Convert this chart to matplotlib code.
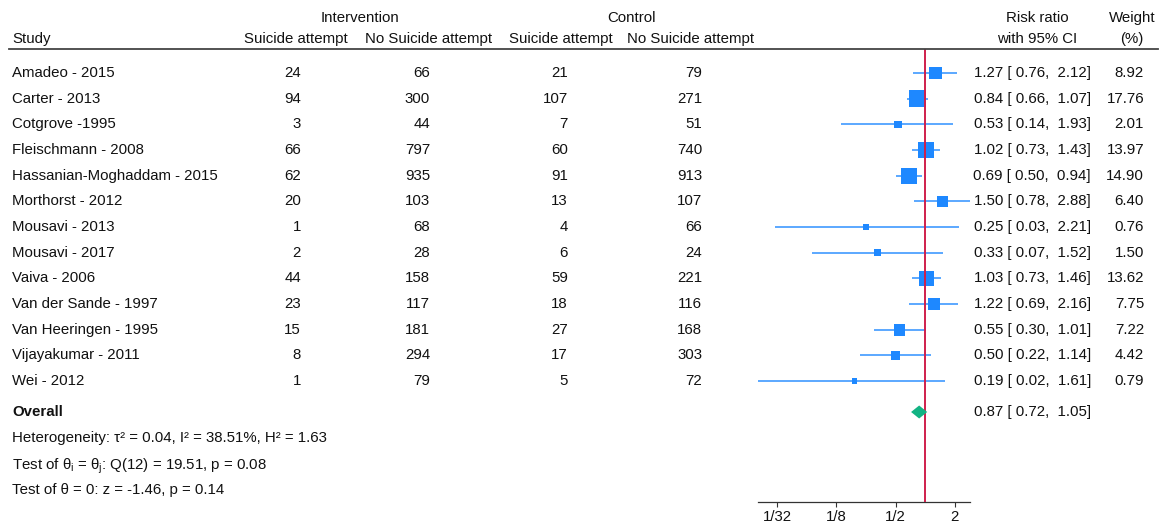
import numpy as np
import matplotlib
matplotlib.use("Agg")
import matplotlib.pyplot as plt
from matplotlib.ticker import FixedLocator, FixedFormatter

plt.rcParams["font.family"] = ["Liberation Sans", "DejaVu Sans"]
plt.rcParams["mathtext.fontset"] = "custom"
plt.rcParams["mathtext.rm"] = "Liberation Sans"
plt.rcParams["mathtext.it"] = "Liberation Sans"
plt.rcParams["mathtext.bf"] = "Liberation Sans:bold"

# ---- data -------------------------------------------------------------
studies = ["Amadeo - 2015", "Carter - 2013", "Cotgrove -1995", "Fleischmann - 2008",
           "Hassanian-Moghaddam - 2015", "Morthorst - 2012", "Mousavi - 2013",
           "Mousavi - 2017", "Vaiva - 2006", "Van der Sande - 1997",
           "Van Heeringen - 1995", "Vijayakumar - 2011", "Wei - 2012"]
int_attempt = [24, 94, 3, 66, 62, 20, 1, 2, 44, 23, 15, 8, 1]
int_no_attempt = [66, 300, 44, 797, 935, 103, 68, 28, 158, 117, 181, 294, 79]
ctl_attempt = [21, 107, 7, 60, 91, 13, 4, 6, 59, 18, 27, 17, 5]
ctl_no_attempt = [79, 271, 51, 740, 913, 107, 66, 24, 221, 116, 168, 303, 72]
rr = [1.27, 0.84, 0.53, 1.02, 0.69, 1.50, 0.25, 0.33, 1.03, 1.22, 0.55, 0.50, 0.19]
rr_lo = [0.76, 0.66, 0.14, 0.73, 0.50, 0.78, 0.03, 0.07, 0.73, 0.69, 0.30, 0.22, 0.02]
rr_hi = [2.12, 1.07, 1.93, 1.43, 0.94, 2.88, 2.21, 1.52, 1.46, 2.16, 1.01, 1.14, 1.61]
weight = [8.92, 17.76, 2.01, 13.97, 14.90, 6.40, 0.76, 1.50, 13.62, 7.75, 7.22, 4.42, 0.79]
overall_rr, overall_lo, overall_hi = 0.87, 0.72, 1.05
tau2, i2, h2 = 0.04, 38.51, 1.63
q_df, q_stat, q_p = 12, 19.51, 0.08
z_stat, z_p = -1.46, 0.14
tick_vals = [1 / 32, 1 / 8, 1 / 2, 2]
tick_labels = ["1/32", "1/8", "1/2", "2"]

# ---- layout (pixel coordinates, origin top-left) ----------------------
W, H = 1162, 528
DPI = 100
row0, row_step = 73, 25.67
y_overall = 412
header_line_y = 49
axis_y = 502

BLUE = "#1e88ff"
GREEN = "#12b383"
RED = "#cf1f4c"
FS = 10.8

fig = plt.figure(figsize=(W / DPI, H / DPI), dpi=DPI)
fig.patch.set_facecolor("white")

# forest panel: log2 axis, pixel rows on y
px_per_doubling = 29.6
x_one = 925.1
xmin, xmax = min(rr_lo), max(rr_hi)
left_px = x_one + px_per_doubling * np.log2(xmin)
right_px = x_one + px_per_doubling * np.log2(xmax)
ax = fig.add_axes([left_px / W, 1 - axis_y / H, (right_px - left_px) / W,
                   (axis_y - header_line_y) / H])
ax.set_xscale("log", base=2)
ax.set_xlim(xmin, xmax)
ax.set_ylim(axis_y, header_line_y)
ax.patch.set_alpha(0)
for s in ["top", "left", "right"]:
    ax.spines[s].set_visible(False)
ax.spines["bottom"].set_color("#333333")
ax.spines["bottom"].set_linewidth(0.9)
ax.yaxis.set_visible(False)
ax.xaxis.set_major_locator(FixedLocator(tick_vals))
ax.xaxis.set_major_formatter(FixedFormatter(tick_labels))
ax.xaxis.set_minor_locator(FixedLocator([]))
ax.tick_params(axis="x", direction="out", length=3.6, width=0.8, color="#333333",
               labelsize=FS, pad=2.0, labelcolor="#111111")

ys = [row0 + row_step * i for i in range(len(studies))]
ax.hlines(ys, rr_lo, rr_hi, color=BLUE, lw=1.2, alpha=0.85, zorder=2)
sides_px = [2.2 + 3.55 * np.sqrt(w) for w in weight]
sizes = [(s * 72 / DPI) ** 2 for s in sides_px]
ax.scatter(rr, ys, s=sizes, marker="s", color=BLUE, linewidths=0, zorder=3)
ax.axvline(1, color=RED, lw=1.4, zorder=4)
half_h = 6.5
ax.fill([overall_lo, overall_rr, overall_hi, overall_rr],
        [y_overall, y_overall - half_h, y_overall, y_overall + half_h],
        color=GREEN, lw=0, zorder=5)

# text overlay in pixel coordinates
tx = fig.add_axes([0, 0, 1, 1])
tx.set_xlim(0, W)
tx.set_ylim(H, 0)
tx.axis("off")
tx.patch.set_alpha(0)

def put(x, y, s, ha="left", **kw):
    tx.text(x, y, s, ha=ha, va="center", fontsize=FS, color="#111111", **kw)

# header
put(360, 18, "Intervention", ha="center")
put(632, 18, "Control", ha="center")
put(1037, 18, "Risk ratio", ha="center")
put(1132, 18, "Weight", ha="center")
put(12, 39, "Study")
put(296, 39, "Suicide attempt", ha="center")
put(428.5, 39, "No Suicide attempt", ha="center")
put(561, 39, "Suicide attempt", ha="center")
put(690.5, 39, "No Suicide attempt", ha="center")
put(1037, 39, "with 95% CI", ha="center")
put(1132, 39, "(%)", ha="center")
tx.plot([9, 1158], [header_line_y, header_line_y], color="#444444", lw=1.3)

# study rows
col_right = [301, 430, 568, 702]
for i, y in enumerate(ys):
    put(12, y, studies[i])
    for xr, col in zip(col_right, [int_attempt, int_no_attempt, ctl_attempt, ctl_no_attempt]):
        put(xr, y, str(col[i]), ha="right")
    put(1091, y, f"{rr[i]:.2f} [{rr_lo[i]:5.2f}, {rr_hi[i]:5.2f}]", ha="right")
    put(1144, y, f"{weight[i]:.2f}", ha="right")

# overall and tests
put(12, y_overall, "Overall", fontweight="bold")
put(1091, y_overall, f"{overall_rr:.2f} [{overall_lo:5.2f}, {overall_hi:5.2f}]", ha="right")
put(12, 438, f"Heterogeneity: \u03c4\u00b2 = {tau2:.2f}, I\u00b2 = {i2:.2f}%, H\u00b2 = {h2:.2f}")
put(12, 466, rf"Test of $\theta_i$ = $\theta_j$: Q({q_df}) = {q_stat:.2f}, p = {q_p:.2f}")
put(12, 490, f"Test of \u03b8 = 0: z = {z_stat:.2f}, p = {z_p:.2f}")

fig.savefig("out.png", dpi=DPI, facecolor="white")
